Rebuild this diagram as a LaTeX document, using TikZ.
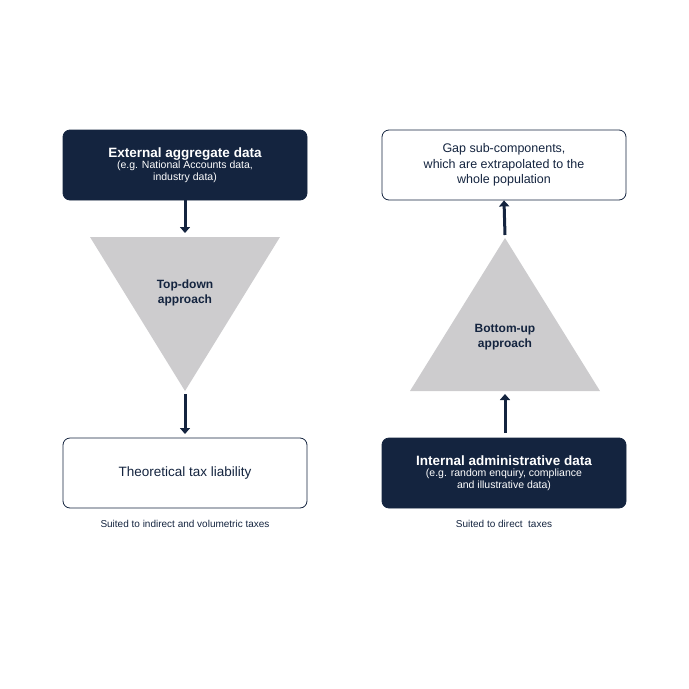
\documentclass[tikz,border=0pt]{standalone}
\usepackage{fontspec}
\setmainfont{Liberation Sans}
\usetikzlibrary{arrows.meta}
\definecolor{navy}{HTML}{14243F}
\definecolor{tri}{HTML}{CDCCCE}
\begin{document}
\begin{tikzpicture}[x=1pt,y=-1pt,
  box/.style={rounded corners=7pt,minimum width=244pt,minimum height=70pt,align=center,line width=0.8pt},
  dark/.style={box,fill=navy,draw=navy,text=white},
  light/.style={box,fill=white,draw=navy,text=navy},
  arr/.style={-{Triangle[length=6pt,width=10pt]},line width=3pt,navy},
  captxt/.style={font=\fontsize{10}{12}\selectfont,text=navy}]
\useasboundingbox (0,0) rectangle (689,689);
\node[dark] (ext) at (185,165) {{\fontsize{13.5}{16}\selectfont\bfseries External aggregate data}\\[-1pt]{\fontsize{10.5}{12.5}\selectfont (e.g. National Accounts data,}\\{\fontsize{10.5}{12.5}\selectfont industry data)}};
\fill[tri] (90,237) -- (280,237) -- (185,391) -- cycle;
\node[font=\fontsize{12}{15}\selectfont\bfseries,text=navy,align=center] (td) at (185,293) {Top-down\\approach};
\node[light,font=\fontsize{13.5}{16}\selectfont] (th) at (185,473) {Theoretical tax liability};
\node[captxt] (c1) at (185,524) {Suited to indirect and volumetric taxes};
\coordinate (a1) at (185,233);
\coordinate (a2) at (185,394);
\coordinate (a3) at (185,434);
\draw[arr] (ext.south) -- (a1);
\draw[arr] (a2) -- (a3);

\node[light,font=\fontsize{12.5}{15.5}\selectfont] (gap) at (504,165) {Gap sub-components,\\which are extrapolated to the\\whole population};
\fill[tri] (505,238) -- (600,391) -- (410,391) -- cycle;
\node[font=\fontsize{12}{15}\selectfont\bfseries,text=navy,align=center] (bu) at (505,337) {Bottom-up\\approach};
\node[dark] (int) at (504,473) {{\fontsize{13.5}{16}\selectfont\bfseries Internal administrative data}\\[-1pt]{\fontsize{10.5}{12.5}\selectfont (e.g. random enquiry, compliance}\\{\fontsize{10.5}{12.5}\selectfont and illustrative data)}};
\node[captxt] (c2) at (504,524) {Suited to direct\ \ taxes};
\coordinate (b1) at (505,235);
\coordinate (b2) at (505,433);
\coordinate (b3) at (505,394);
\draw[arr] (b1) -- (gap.south);
\draw[arr] (b2) -- (b3);
\end{tikzpicture}
\end{document}
